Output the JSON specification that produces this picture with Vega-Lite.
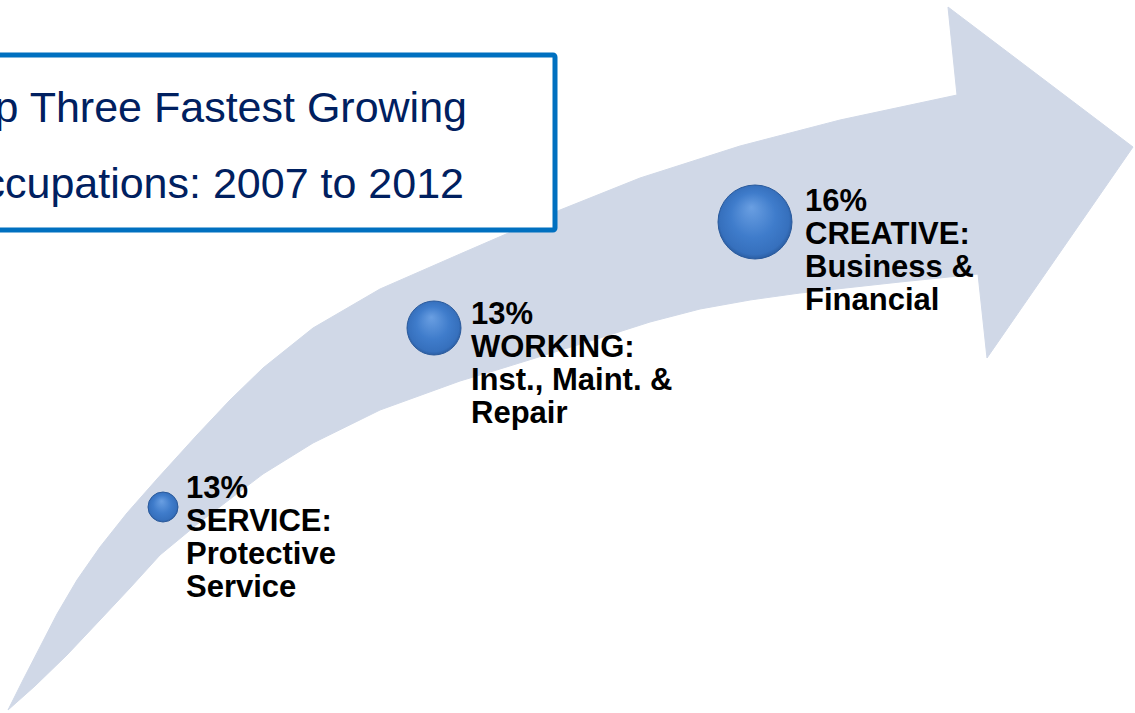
{
  "$schema": "https://vega.github.io/schema/vega-lite/v6.json",
  "autosize": {"type": "fit", "contains": "padding"},
  "width": 1135,
  "height": 713,
  "padding": 0,
  "background": "white",
  "config": {"view": {"stroke": null}},
  "datasets": {
    "arrow": [
      {"i": 0, "x": 8, "y": 710},
      {"i": 1, "x": 23, "y": 680},
      {"i": 2, "x": 40, "y": 647},
      {"i": 3, "x": 57, "y": 614},
      {"i": 4, "x": 77, "y": 580},
      {"i": 5, "x": 100, "y": 547},
      {"i": 6, "x": 127, "y": 513},
      {"i": 7, "x": 157, "y": 479},
      {"i": 8, "x": 197, "y": 435},
      {"i": 9, "x": 230, "y": 400},
      {"i": 10, "x": 263, "y": 368},
      {"i": 11, "x": 313, "y": 328},
      {"i": 12, "x": 380, "y": 289},
      {"i": 13, "x": 460, "y": 254},
      {"i": 14, "x": 520, "y": 228},
      {"i": 15, "x": 560, "y": 210},
      {"i": 16, "x": 640, "y": 178},
      {"i": 17, "x": 740, "y": 146},
      {"i": 18, "x": 840, "y": 120},
      {"i": 19, "x": 957, "y": 95},
      {"i": 20, "x": 948, "y": 7},
      {"i": 21, "x": 1133, "y": 147},
      {"i": 22, "x": 987, "y": 358},
      {"i": 23, "x": 978, "y": 274},
      {"i": 24, "x": 900, "y": 282},
      {"i": 25, "x": 800, "y": 293},
      {"i": 26, "x": 750, "y": 300},
      {"i": 27, "x": 700, "y": 309},
      {"i": 28, "x": 650, "y": 322},
      {"i": 29, "x": 600, "y": 338},
      {"i": 30, "x": 500, "y": 369},
      {"i": 31, "x": 460, "y": 381},
      {"i": 32, "x": 380, "y": 410},
      {"i": 33, "x": 313, "y": 443},
      {"i": 34, "x": 263, "y": 474},
      {"i": 35, "x": 200, "y": 522},
      {"i": 36, "x": 160, "y": 555},
      {"i": 37, "x": 130, "y": 588},
      {"i": 38, "x": 100, "y": 620},
      {"i": 39, "x": 67, "y": 655},
      {"i": 40, "x": 35, "y": 686},
      {"i": 41, "x": 8, "y": 710}
    ],
    "box": [{"x": -20, "x2": 555, "y": 55, "y2": 230}],
    "title": [
      {"x": 467, "y": 122, "t": "Top Three Fastest Growing"},
      {"x": 464, "y": 198, "t": "Occupations: 2007 to 2012"}
    ],
    "items": [
      {"step": 1, "pct": "13%", "group": "SERVICE:", "name": "Protective|Service", "cx": 163, "cy": 507, "tx": 186, "ty": 498},
      {"step": 2, "pct": "13%", "group": "WORKING:", "name": "Inst., Maint. &|Repair", "cx": 434, "cy": 328, "tx": 471, "ty": 324},
      {"step": 3, "pct": "16%", "group": "CREATIVE:", "name": "Business &|Financial", "cx": 755, "cy": 222, "tx": 805, "ty": 211}
    ]
  },
  "layer": [
    {
      "data": {"name": "arrow"},
      "mark": {"type": "line", "fill": "#D0D8E7", "stroke": "#D0D8E7", "strokeWidth": 1, "interpolate": "linear"},
      "encoding": {
        "x": {"field": "x", "type": "quantitative", "axis": null, "scale": {"domain": [0, 1135], "nice": false, "zero": false}},
        "y": {"field": "y", "type": "quantitative", "axis": null, "scale": {"domain": [0, 713], "nice": false, "zero": false, "reverse": true}},
        "order": {"field": "i", "type": "quantitative"}
      }
    },
    {
      "data": {"name": "box"},
      "mark": {"type": "rect", "fill": "white", "stroke": "#0070C0", "strokeWidth": 5, "cornerRadius": 2, "clip": true},
      "encoding": {
        "x": {"field": "x", "type": "quantitative"},
        "x2": {"field": "x2"},
        "y": {"field": "y", "type": "quantitative"},
        "y2": {"field": "y2"}
      }
    },
    {
      "data": {"name": "title"},
      "mark": {"type": "text", "align": "right", "baseline": "alphabetic", "font": "Liberation Sans", "fontSize": 43, "color": "#002060", "clip": true},
      "encoding": {
        "x": {"field": "x", "type": "quantitative"},
        "y": {"field": "y", "type": "quantitative"},
        "text": {"field": "t", "type": "nominal"}
      }
    },
    {
      "data": {"name": "items"},
      "mark": {
        "type": "point", "shape": "circle", "filled": true, "opacity": 1,
        "fill": {"gradient": "radial", "x1": 0.45, "y1": 0.3, "r1": 0, "x2": 0.5, "y2": 0.5, "r2": 0.55,
          "stops": [{"offset": 0, "color": "#6A9FE2"}, {"offset": 0.55, "color": "#3F7CCB"}, {"offset": 0.85, "color": "#3670BD"}, {"offset": 1, "color": "#23508F"}]},
        "stroke": "#2A5A9C", "strokeWidth": 1
      },
      "encoding": {
        "x": {"field": "cx", "type": "quantitative"},
        "y": {"field": "cy", "type": "quantitative"},
        "size": {"field": "step", "type": "quantitative", "legend": null, "scale": {"type": "threshold", "domain": [1.5, 2.5], "range": [900, 2916, 5476]}}
      }
    },
    {
      "data": {"name": "items"},
      "transform": [{"calculate": "datum.pct + '|' + datum.group + '|' + datum.name", "as": "label"}],
      "mark": {"type": "text", "align": "left", "baseline": "alphabetic", "font": "Liberation Sans", "fontWeight": "bold", "fontSize": 31, "lineHeight": 33, "lineBreak": "|", "color": "black"},
      "encoding": {
        "x": {"field": "tx", "type": "quantitative"},
        "y": {"field": "ty", "type": "quantitative"},
        "text": {"field": "label", "type": "nominal"}
      }
    }
  ]
}
